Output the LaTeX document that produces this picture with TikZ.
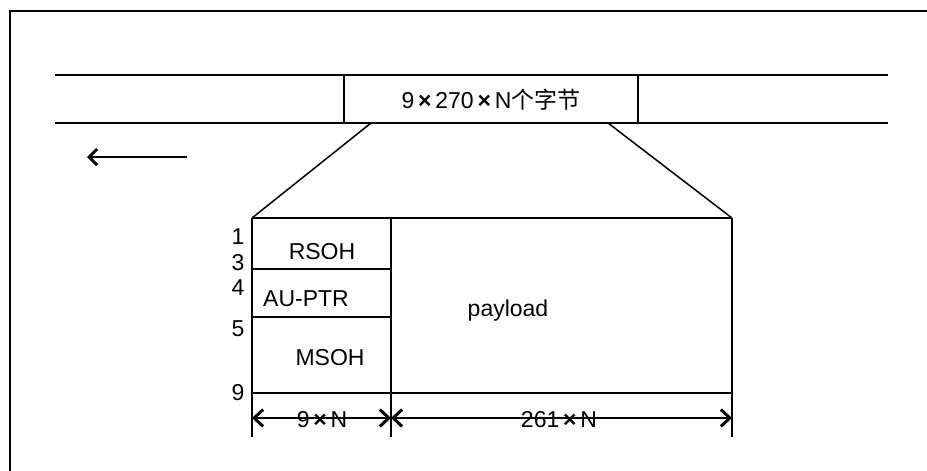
\documentclass[tikz,border=0pt]{standalone}
\usepackage{fontspec}
\setmainfont{Liberation Sans}
\newfontfamily\cjk{Noto Sans CJK SC}
\usetikzlibrary{arrows.meta}
\newcommand{\mytimes}{\,\textbf{×}\,}
\begin{document}
\begin{tikzpicture}[x=1pt,y=-1pt,
  ln/.style={line width=1.5pt,black},
  lbl/.style={font=\fontsize{23}{26}\selectfont,inner sep=0pt,anchor=center},
  dimarrow/.style={ln,{Straight Barb[length=9pt,width=17pt,line width=3pt]}-{Straight Barb[length=9pt,width=17pt,line width=3pt]}},
  shiftarrow/.style={ln,-{Straight Barb[length=8pt,width=16pt,line width=3pt]}}]
\useasboundingbox (0,0) rectangle (927,471);
% partial outer frame (top and left only)
\draw[ln] (10,471) -- (10,11) -- (927,11);
% top band
\coordinate (bl1) at (55,75); \coordinate (br1) at (888,75);
\coordinate (bl2) at (55,123); \coordinate (br2) at (888,123);
\draw[ln] (bl1) -- (br1);
\draw[ln] (bl2) -- (br2);
\node[draw,ln,minimum width=294pt,minimum height=48pt,inner sep=0pt] (frame) at (491,99) {};
\node[lbl] (ftext) at (491,100) {9\mytimes270\mytimes N{\cjk 个字节}};
% shift arrow
\coordinate (sa) at (187,157); \coordinate (sb) at (87,157);
\draw[shiftarrow] (sa) -- (sb);
% expansion
\coordinate (A) at (252,218); \coordinate (B) at (732,218);
\coordinate (C) at (252,393); \coordinate (D) at (732,393);
\coordinate (p1) at (371,123); \coordinate (p2) at (608,123);
\draw[ln] (p1) -- (A);
\draw[ln] (p2) -- (B);
\draw[ln] (A) -- (B);
\draw[ln] (C) -- (D);
\draw[ln] (252,218) -- (252,437);
\draw[ln] (391,218) -- (391,437);
\draw[ln] (732,218) -- (732,437);
\coordinate (h1a) at (252,269); \coordinate (h1b) at (391,269);
\coordinate (h2a) at (252,317); \coordinate (h2b) at (391,317);
\draw[ln] (h1a) -- (h1b);
\draw[ln] (h2a) -- (h2b);
% row labels
\node[lbl] (r1) at (238,237) {1};
\node[lbl] (r3) at (238,263) {3};
\node[lbl] (r4) at (238,288) {4};
\node[lbl] (r5) at (238,329) {5};
\node[lbl] (r9) at (238,393) {9};
% field labels
\node[lbl] (rsoh) at (322,252) {RSOH};
\node[lbl] (auptr) at (306,299) {AU-PTR};
\node[lbl] (msoh) at (330,358) {MSOH};
\node[lbl] (payload) at (508,311) {payload};
% dimensions
\coordinate (d1) at (252,418); \coordinate (d2) at (391,418); \coordinate (d3) at (732,418);
\draw[dimarrow] (d1) -- (d2);
\draw[dimarrow] (d2) -- (d3);
\node[lbl] (w1) at (322,420) {9\mytimes N};
\node[lbl] (w2) at (559,420) {261\mytimes N};
\end{tikzpicture}
\end{document}
